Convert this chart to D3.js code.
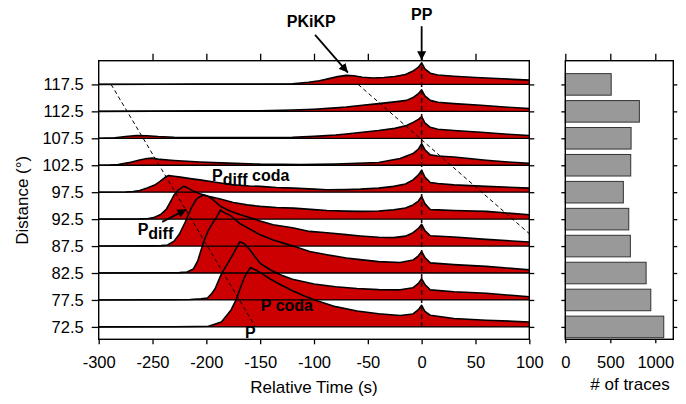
<!DOCTYPE html>
<html>
<head>
<meta charset="utf-8">
<script src="https://cdn.jsdelivr.net/npm/d3@7"></script>
<style>
  body { margin: 0; background: #fff; }
  text { font-family: "Liberation Sans", Arial, sans-serif; }
</style>
</head>
<body>
<div id="plot"></div>
<script>
// Define SVG area dimensions
var svgWidth = 686;
var svgHeight = 404;

// distance of each stack (deg), top to bottom
var distances = [117.5, 112.5, 107.5, 102.5, 97.5, 92.5, 87.5, 82.5, 77.5, 72.5];

// number of traces that went into each stack
var traceCounts = [510, 823, 731, 727, 645, 705, 723, 898, 950, 1094];

// stacked envelopes: [relative time (s), amplitude in % of the PP peak]
var env1175 = [[-300, 0], [-250, 1], [-200, 2], [-150, 2], [-120, 3], [-105, 10], [-95, 17], [-85, 28], [-78, 36],
  [-70, 42], [-63, 40], [-55, 33], [-45, 30], [-35, 32], [-25, 37], [-15, 46], [-8, 62], [-3, 80], [0, 100],
  [3, 72], [8, 52], [15, 44], [30, 38], [50, 32], [75, 26], [100, 20]];
var env1125 = [[-300, 0], [-250, 1], [-200, 2], [-150, 3], [-120, 6], [-100, 10], [-80, 16], [-70, 20], [-55, 28],
  [-40, 36], [-25, 44], [-14, 51], [-8, 64], [-3, 82], [0, 100], [3, 72], [8, 51], [15, 42], [30, 36], [55, 28],
  [80, 19], [100, 13]];
var env1075 = [[-300, 0], [-285, 2], [-275, 8], [-265, 13], [-255, 12], [-245, 8], [-230, 5], [-200, 4], [-150, 3],
  [-120, 5], [-100, 9], [-80, 15], [-70, 20], [-55, 28], [-40, 36], [-25, 46], [-14, 59], [-8, 74], [-3, 88],
  [0, 100], [3, 72], [8, 51], [15, 42], [30, 36], [55, 28], [80, 19], [100, 13]];
var env1025 = [[-300, 0], [-290, 1], [-282, 3], [-272, 12], [-262, 24], [-255, 31], [-250, 33], [-243, 27], [-230, 22],
  [-206, 15], [-180, 10], [-150, 5], [-113, 3], [-80, 6], [-60, 9], [-40, 13], [-20, 31], [-8, 54], [-3, 75],
  [0, 100], [3, 72], [8, 48], [15, 43], [30, 38], [60, 23], [80, 15], [100, 9]];
var env975 = [[-300, 0], [-275, 1], [-268, 3], [-262, 8], [-255, 19], [-248, 33], [-243, 50], [-238, 70], [-235, 77],
  [-230, 74], [-224, 70], [-215, 63], [-206, 57], [-190, 45], [-175, 34], [-160, 29], [-150, 27], [-135, 22],
  [-119, 19], [-100, 14], [-88, 11], [-70, 12], [-57, 14], [-40, 19], [-26, 27], [-15, 38], [-8, 57], [-3, 80],
  [0, 102], [3, 70], [8, 45], [15, 40], [30, 34], [60, 27], [100, 19]];
var env925 = [[-300, 0], [-262, 1], [-255, 2], [-249, 7], [-242, 23], [-237, 47], [-233, 84], [-230, 112], [-226, 135],
  [-221, 153], [-217, 144], [-212, 130], [-205, 116], [-199, 107], [-187, 93], [-175, 77], [-162, 66], [-150, 59],
  [-135, 54], [-119, 51], [-100, 44], [-88, 40], [-70, 37], [-57, 36], [-40, 38], [-26, 43], [-15, 52], [-8, 66],
  [-3, 84], [0, 105], [3, 72], [8, 45], [15, 43], [30, 40], [60, 36], [100, 20]];
var env875 = [[-300, 0], [-250, 1], [-242, 2], [-236, 5], [-230, 23], [-225, 56], [-220, 107], [-214, 177], [-209, 219],
  [-203, 237], [-199, 232], [-195, 220], [-187, 185], [-178, 163], [-169, 146], [-160, 133], [-150, 116],
  [-138, 99], [-120, 85], [-104, 68], [-88, 62], [-70, 53], [-57, 47], [-40, 41], [-26, 39], [-15, 46], [-8, 62],
  [-3, 82], [0, 101], [3, 72], [8, 48], [30, 42], [60, 31], [100, 19]];
var env825 = [[-300, 0], [-235, 1], [-225, 2], [-218, 5], [-212, 19], [-208, 56], [-205, 105], [-202, 152], [-198, 199],
  [-194, 233], [-190, 263], [-187, 292], [-183, 279], [-178, 268], [-169, 230], [-160, 205], [-150, 177],
  [-138, 153], [-120, 126], [-104, 100], [-88, 85], [-70, 70], [-57, 62], [-40, 53], [-20, 49], [-8, 60],
  [-3, 80], [0, 100], [3, 72], [8, 47], [30, 39], [60, 31], [100, 15]];
var env775 = [[-300, 0], [-230, 1], [-215, 2], [-205, 5], [-199, 9], [-195, 30], [-192, 51], [-186, 121], [-180, 171],
  [-175, 214], [-169, 270], [-165, 262], [-160, 235], [-150, 170], [-140, 138], [-130, 115], [-120, 96],
  [-100, 74], [-80, 61], [-60, 53], [-40, 48], [-20, 47], [-8, 57], [-3, 77], [0, 98], [3, 72], [8, 47],
  [30, 38], [60, 31], [100, 15]];
var env725 = [[-300, 0], [-230, 1], [-210, 2], [-198, 3], [-186, 23], [-177, 79], [-172, 130], [-168, 186], [-164, 237],
  [-159, 276], [-154, 264], [-148, 246], [-140, 220], [-130, 193], [-120, 168], [-110, 146], [-100, 126],
  [-80, 94], [-60, 74], [-40, 61], [-20, 53], [-8, 60], [-3, 80], [0, 100], [3, 72], [8, 54], [30, 39],
  [60, 31], [100, 23]];

var stacks = [env1175, env1125, env1075, env1025, env975, env925, env875, env825, env775, env725];

// tick values
var timeTicks = [-300, -250, -200, -150, -100, -50, 0, 50, 100];
var countTicks = [0, 500, 1000];

// picked phases, [time, distance]
var pLine = [[-288.5, 117.5], [-155, 72.7]];
var pkikpLine = [[-59, 117.5], [100, 89.8]];
var ppLine = [[0, 72.5], [0, 121.5]];

// arrows, [time, distance] from -> to
var arrows = [
  [[0, 128.3], [0, 122.0]],
  [[-99, 126.7], [-68.5, 119.7]],
  [[-241, 92.0], [-218.5, 94.3]]
];

// phase labels
var labels = [
  {main: "PP", t: 0, d: 129.5, anchor: "middle"},
  {main: "PKiKP", t: -102.5, d: 128.1, anchor: "middle"},
  {main: "P", sub: "diff", rest: " coda", t: -194.7, d: 99.5, anchor: "start"},
  {main: "P", sub: "diff", t: -263.8, d: 89.6, anchor: "start"},
  {main: "P coda", t: -149.4, d: 75.5, anchor: "start"},
  {main: "P", t: -164, d: 70.4, anchor: "start"}
];

// amplitude of 100 % (PP) expressed in degrees of distance
var ampGain = 4.0;

// panel edges
var margin = {top: 60.7, bottom: 339.3, left: 98.7, right: 529.3};
var barPanel = {left: 565.3, right: 673.3};

var svg = d3.select("#plot")
  .append("svg")
  .attr("width", svgWidth)
  .attr("height", svgHeight)
  .style("display", "block");

// scales
var xScale = d3.scaleLinear().domain([-300, 100]).range([margin.left, margin.right]);
var yScale = d3.scaleLinear().domain([70.2, 121.9]).range([margin.bottom, margin.top]);
var countScale = d3.scaleLinear().domain([0, 1200]).range([barPanel.left, barPanel.right]);

var red = "#cc0000";

// fills first
var area = function(dist) {
  return d3.area()
    .x(d => xScale(d[0]))
    .y0(yScale(dist))
    .y1(d => yScale(dist + d[1] / 100 * ampGain));
};
var line = function(dist) {
  return d3.line()
    .x(d => xScale(d[0]))
    .y(d => yScale(dist + d[1] / 100 * ampGain));
};

var traceGroup = svg.append("g");
stacks.forEach(function(env, i) {
  traceGroup.append("path")
    .attr("d", area(distances[i])(env))
    .attr("fill", red)
    .attr("stroke", "none");
});

// baselines on top of the fills
traceGroup.selectAll(".baseline")
  .data(distances)
  .enter()
  .append("line")
  .attr("class", "baseline")
  .attr("x1", xScale(-300))
  .attr("x2", xScale(100))
  .attr("y1", d => yScale(d))
  .attr("y2", d => yScale(d))
  .attr("stroke", "#000")
  .attr("stroke-width", 1.3);

// envelope outlines
stacks.forEach(function(env, i) {
  traceGroup.append("path")
    .attr("d", line(distances[i])(env))
    .attr("fill", "none")
    .attr("stroke", "#000")
    .attr("stroke-width", 1.6)
    .attr("stroke-linejoin", "round");
});

// dashed phase lines
var dataLine = d3.line().x(d => xScale(d[0])).y(d => yScale(d[1]));
svg.append("path").attr("d", dataLine(pLine))
  .attr("fill", "none").attr("stroke", "#000").attr("stroke-width", 1).attr("stroke-dasharray", "4,3");
svg.append("path").attr("d", dataLine(pkikpLine))
  .attr("fill", "none").attr("stroke", "#000").attr("stroke-width", 1).attr("stroke-dasharray", "4,3");
svg.append("path").attr("d", dataLine(ppLine))
  .attr("fill", "none").attr("stroke", "#300").attr("stroke-width", 1.6).attr("stroke-dasharray", "5,3");

// arrowheads
var defs = svg.append("defs");
defs.append("marker")
  .attr("id", "arrow")
  .attr("viewBox", "0 0 10 10")
  .attr("refX", 10).attr("refY", 5)
  .attr("markerWidth", 5).attr("markerHeight", 5)
  .attr("markerUnits", "strokeWidth")
  .attr("orient", "auto")
  .append("path")
  .attr("d", "M0,0 L10,5 L0,10 z")
  .attr("fill", "#000");

arrows.forEach(function(a) {
  svg.append("path")
    .attr("d", dataLine(a))
    .attr("stroke", "#000")
    .attr("stroke-width", 1.8)
    .attr("marker-end", "url(#arrow)");
});

// phase labels
labels.forEach(function(l) {
  var t = svg.append("text")
    .attr("x", xScale(l.t))
    .attr("y", yScale(l.d))
    .attr("text-anchor", l.anchor)
    .style("font-size", "16px")
    .style("font-weight", "bold")
    .attr("fill", "#000");
  t.append("tspan").text(l.main);
  if (l.sub) {
    t.append("tspan").attr("dy", 4).text(l.sub);
  }
  if (l.rest) {
    t.append("tspan").attr("dy", -4).text(l.rest);
  }
});

// axes for the trace panel
var fmt = d => String(d);
var bottomAxis = d3.axisBottom(xScale).tickValues(timeTicks).tickFormat(fmt).tickSize(5).tickPadding(12);
var topAxis = d3.axisTop(xScale).tickValues(timeTicks.slice(1, -1)).tickFormat("").tickSize(7);
var leftAxis = d3.axisLeft(yScale).tickValues(distances).tickFormat(d3.format(".1f")).tickSize(7).tickPadding(8);
var rightAxis = d3.axisRight(yScale).tickValues(distances).tickFormat("").tickSize(5);

function styleAxis(g) {
  g.select(".domain").remove();
  g.selectAll("line").attr("stroke", "#000").attr("stroke-width", 1.3);
  g.selectAll("text").style("font-size", "16.5px").attr("fill", "#000")
    .style("font-family", "'Liberation Sans', Arial, sans-serif");
}

svg.append("g").attr("transform", `translate(0, ${margin.bottom})`).call(bottomAxis).call(styleAxis);
svg.append("g").attr("transform", `translate(0, ${margin.top})`).call(topAxis).call(styleAxis);
svg.append("g").attr("transform", `translate(${margin.left}, 0)`).call(leftAxis).call(styleAxis);
svg.append("g").attr("transform", `translate(${margin.right}, 0)`).call(rightAxis).call(styleAxis);

svg.append("rect")
  .attr("x", margin.left).attr("y", margin.top)
  .attr("width", margin.right - margin.left)
  .attr("height", margin.bottom - margin.top)
  .attr("fill", "none").attr("stroke", "#000").attr("stroke-width", 1.4);

// axis titles
svg.append("text")
  .attr("x", (margin.left + margin.right) / 2)
  .attr("y", 393)
  .attr("text-anchor", "middle")
  .style("font-size", "17px")
  .text("Relative Time (s)");

svg.append("text")
  .attr("transform", `translate(28, ${yScale(96)}) rotate(-90)`)
  .attr("text-anchor", "middle")
  .style("font-size", "17px")
  .text("Distance (°)");

// trace count bars
svg.selectAll(".bar")
  .data(traceCounts)
  .enter()
  .append("rect")
  .attr("class", "bar")
  .attr("x", countScale(0))
  .attr("y", (d, i) => yScale(distances[i] + 2))
  .attr("width", d => countScale(d) - countScale(0))
  .attr("height", (d, i) => yScale(distances[i] - 2) - yScale(distances[i] + 2))
  .attr("fill", "#999999")
  .attr("stroke", "#333")
  .attr("stroke-width", 1);

var barBottom = d3.axisBottom(countScale).tickValues(countTicks).tickFormat(fmt).tickSize(4).tickPadding(13);
var barTop = d3.axisTop(countScale).tickValues(countTicks).tickFormat("").tickSize(7);
var barLeft = d3.axisLeft(yScale).tickValues(distances).tickFormat("").tickSize(4);
var barRight = d3.axisRight(yScale).tickValues(distances).tickFormat("").tickSize(4);

svg.append("g").attr("transform", `translate(0, ${margin.bottom})`).call(barBottom).call(styleAxis);
svg.append("g").attr("transform", `translate(0, ${margin.top})`).call(barTop).call(styleAxis);
svg.append("g").attr("transform", `translate(${barPanel.left}, 0)`).call(barLeft).call(styleAxis);
svg.append("g").attr("transform", `translate(${barPanel.right}, 0)`).call(barRight).call(styleAxis);

svg.append("rect")
  .attr("x", barPanel.left).attr("y", margin.top)
  .attr("width", barPanel.right - barPanel.left)
  .attr("height", margin.bottom - margin.top)
  .attr("fill", "none").attr("stroke", "#000").attr("stroke-width", 1.4);

svg.append("text")
  .attr("x", 630)
  .attr("y", 390)
  .attr("text-anchor", "middle")
  .style("font-size", "17px")
  .text("# of traces");
</script>
</body>
</html>
